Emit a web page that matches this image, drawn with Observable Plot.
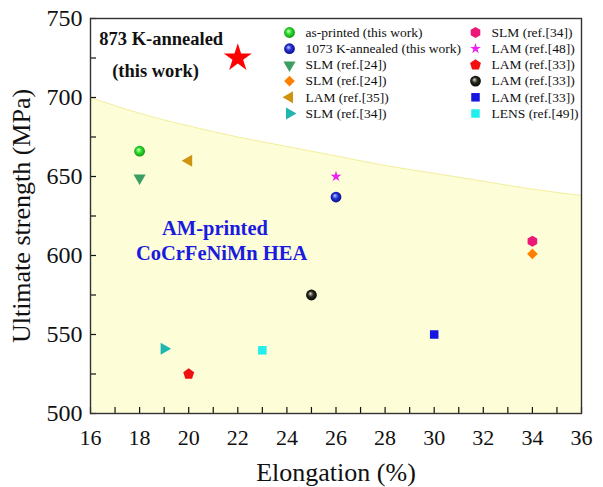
<!DOCTYPE html>
<html>
<head>
<meta charset="utf-8">
<script src="https://cdn.jsdelivr.net/npm/d3@7"></script>
<script src="https://cdn.jsdelivr.net/npm/@observablehq/plot@0.6"></script>
<style>
  body { margin: 0; background: #fff; }
  #wrap { position: relative; width: 603px; height: 487px; }
  #wrap svg { position: absolute; left: 0; top: 0; }
  #wrap svg, #wrap svg text { font-family: "Liberation Serif", "Times New Roman", serif !important; }
</style>
</head>
<body>
<div id="wrap"></div>
<script>
// ---- data ----
const boundaryElong = [16, 18, 20, 22, 24, 26, 28, 30, 32, 34, 36];
const boundaryUTS   = [700, 690, 682, 675, 669, 663, 657, 652, 647, 642, 638];

const seriesLabels = [
  "as-printed (this work)", "1073 K-annealed (this work)", "SLM (ref.[24])", "SLM (ref.[24])",
  "LAM (ref.[35])", "SLM (ref.[34])", "SLM (ref.[34])", "LAM (ref.[48])",
  "LAM (ref.[33])", "LAM (ref.[33])", "LAM (ref.[33])", "LENS (ref.[49])"
];
const seriesElong = [18, 26, 18, 34, 20, 19, 34, 26, 20, 25, 30, 23];
const seriesUTS   = [666, 637, 649, 601, 660, 541, 609, 650, 525, 575, 550, 540];
const seriesFill  = ["url(#sphGreen)", "url(#sphBlue)", "#3d9e63", "#ff8000",
                     "#cf930f", "#1fb5b0", "#ec1877", "#ee22ee",
                     "#f01010", "url(#sphBlack)", "#1616e0", "#22eeee"];
const seriesSymbol = ["circle", "circle", "triangle", "diamond2",
                      "triangle", "triangle", "hexagon", "star",
                      "pentagon", "circle", "square", "square"];
const seriesRotate = [0, 0, 180, 0, -90, 90, 0, 0, 0, 0, 0, 0];
const seriesR      = [5.4, 5.4, 4.5, 4.8, 4.5, 4.5, 4.8, 3.4, 5, 5.4, 4.8, 4.8];

const highlightLabel = ["873 K-annealed", "(this work)"];
const highlightElong = 22, highlightUTS = 725;
const noteLines = ["AM-printed", "CoCrFeNiMn HEA"];

const xTicks = [16, 18, 20, 22, 24, 26, 28, 30, 32, 34, 36];
const xMinor = [17, 19, 21, 23, 25, 27, 29, 31, 33, 35];
const yTicks = [500, 550, 600, 650, 700, 750];
const yMinor = [525, 575, 625, 675, 725];

// ---- custom pentagon symbol ----
const pentagon = {
  draw(ctx, size) {
    const R = Math.sqrt(size / 2.3776);
    for (let i = 0; i < 5; i++) {
      const a = -Math.PI / 2 + i * 2 * Math.PI / 5;
      const px = R * Math.cos(a), py = R * Math.sin(a);
      if (i === 0) ctx.moveTo(px, py); else ctx.lineTo(px, py);
    }
    ctx.closePath();
  }
};
const symOf = s => s === "pentagon" ? pentagon : s;

const points = seriesLabels.map((label, i) => ({
  label, x: seriesElong[i], y: seriesUTS[i], fill: seriesFill[i],
  symbol: symOf(seriesSymbol[i]), rotate: seriesRotate[i], r: seriesR[i]
}));
const boundary = boundaryElong.map((x, i) => ({x, y: boundaryUTS[i]}));

const serif = "'Liberation Serif', 'Times New Roman', serif";

const chart = Plot.plot({
  width: 603, height: 487,
  marginLeft: 90, marginRight: 22, marginTop: 18, marginBottom: 74,
  style: {fontFamily: serif, background: "transparent", color: "#111"},
  x: {domain: [16, 36]},
  y: {domain: [500, 750]},
  r: {type: "identity"},
  marks: [
    Plot.areaY(boundary, {x: "x", y: "y", fill: "#fdfdd8", curve: "natural", clip: true}),
    Plot.lineY(boundary, {x: "x", y: "y", stroke: "#f3eea0", strokeWidth: 1, curve: "natural", clip: true}),
    // tick labels
    Plot.axisX({ticks: xTicks, tickSize: 0, tickPadding: 16, fontSize: 22, label: null}),
    Plot.axisY({ticks: yTicks, tickSize: 0, tickPadding: 8, fontSize: 24, label: null}),
    // axis titles
    Plot.axisX({ticks: [], tickSize: 0, text: null, fontSize: 26,
      label: "Elongation (%)", labelAnchor: "center", labelArrow: false, labelOffset: 67}),
    Plot.axisY({ticks: [], tickSize: 0, text: null, fontSize: 26,
      label: "Ultimate strength (MPa)", labelAnchor: "center", labelArrow: false, labelOffset: 79}),
    // inward ticks
    Plot.axisX({ticks: xTicks.concat(xMinor), tickSize: -6, text: null, label: null, strokeWidth: 1.2}),
    Plot.axisY({ticks: yTicks.concat(yMinor), tickSize: -6, text: null, label: null, strokeWidth: 1.2}),
    Plot.frame({stroke: "#333", strokeWidth: 1.4}),
    // data points
    Plot.dot(points, {x: "x", y: "y", symbol: "symbol", fill: "fill", r: "r", rotate: "rotate"}),
    // highlighted star
    Plot.dot([{x: highlightElong, y: highlightUTS}], {x: "x", y: "y", symbol: "star", r: 8.8, fill: "#ff0000"}),
    Plot.text([highlightLabel[0]], {x: 18.88, y: 737, text: d => d, fontSize: 18.5, fontWeight: "bold", fill: "#111"}),
    Plot.text([highlightLabel[1]], {x: 18.65, y: 716.5, text: d => d, fontSize: 18.5, fontWeight: "bold", fill: "#111"}),
    Plot.text([noteLines[0]], {x: 21.07, y: 617, text: d => d, fontSize: 20.5, fontWeight: "bold", fill: "#1a1ae0"}),
    Plot.text([noteLines[1]], {x: 21.34, y: 601, text: d => d, fontSize: 20.5, fontWeight: "bold", fill: "#1a1ae0"})
  ]
});
document.getElementById("wrap").appendChild(chart);

// ---- legend as a separate small Plot ----
const legendCols = [0, 0, 0, 0, 0, 0, 1, 1, 1, 1, 1, 1];
const legendRows = [0, 1, 2, 3, 4, 5, 0, 1, 2, 3, 4, 5];
const legendData = points.map((p, i) => ({...p, col: legendCols[i], row: legendRows[i]}));
const legend = Plot.plot({
  width: 603, height: 130,
  margin: 0,
  style: {fontFamily: serif, background: "transparent", color: "#111"},
  x: {type: "linear", domain: [0, 1], range: [289, 475], axis: null},
  y: {type: "linear", domain: [0, 5], range: [32, 113], axis: null},
  r: {type: "identity"},
  marks: [
    Plot.dot(legendData, {x: "col", y: "row", symbol: "symbol", fill: "fill", r: "r", rotate: "rotate"}),
    Plot.text(legendData, {x: "col", y: "row", text: "label", textAnchor: "start", dx: 16, fontSize: 13.5, fill: "#111"})
  ]
});
document.getElementById("wrap").appendChild(legend);

// ---- sphere gradients ----
function addDefs(svg) {
  const ns = "http://www.w3.org/2000/svg";
  const defs = document.createElementNS(ns, "defs");
  const grads = [
    ["sphGreen", "#d8ffd0", "#2ee02e", "#0d8a0d"],
    ["sphBlue", "#c8ccff", "#2433d8", "#0a0a7a"],
    ["sphBlack", "#e0e0d0", "#2a2a20", "#000000"]
  ];
  for (const [id, c0, c1, c2] of grads) {
    const g = document.createElementNS(ns, "radialGradient");
    g.setAttribute("id", id);
    g.setAttribute("cx", "0.5"); g.setAttribute("cy", "0.5"); g.setAttribute("r", "0.55");
    g.setAttribute("fx", "0.38"); g.setAttribute("fy", "0.35");
    [[0, c0], [0.45, c1], [1, c2]].forEach(([o, c]) => {
      const s = document.createElementNS(ns, "stop");
      s.setAttribute("offset", o); s.setAttribute("stop-color", c);
      g.appendChild(s);
    });
    defs.appendChild(g);
  }
  svg.insertBefore(defs, svg.firstChild);
}
addDefs(chart);
</script>
</body>
</html>
